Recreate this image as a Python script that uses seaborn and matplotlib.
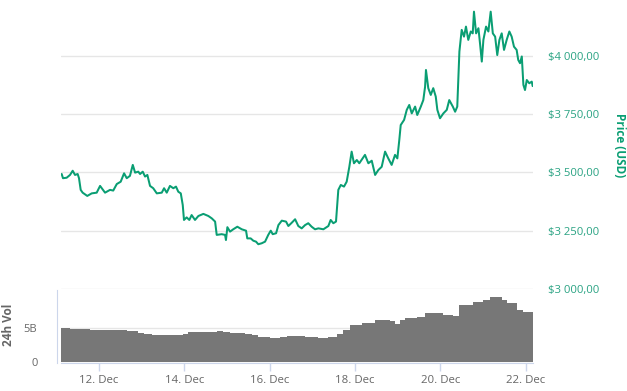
import numpy as np
import pandas as pd
import matplotlib
matplotlib.use("Agg")
import matplotlib.pyplot as plt
import matplotlib.dates as mdates
import seaborn as sns

# hours since 11 Dec 00:00 and price in USD
price_hours = [3.0, 3.75, 5.8, 7.7, 9.2, 10.5, 12.0, 12.75, 13.7, 14.8, 17.4, 19.9, 22.7,
               24.6, 27.4, 30.2, 32.0, 34.0, 36.2, 38.1, 39.6, 41.4, 43.0, 44.3, 46.1, 47.1,
               48.6, 49.9, 51.2, 52.7, 54.5, 56.5, 59.3, 60.6, 62.1, 63.9, 65.8, 67.3, 68.6,
               70.0, 71.1, 71.8, 73.3, 74.8, 76.1, 78.0, 79.9, 82.7, 85.5, 87.4, 89.3, 90.2,
               93.0, 94.9, 95.4, 96.2, 97.7, 99.5, 101.8, 104.3, 106.7, 107.4, 109.3, 110.8,
               112.3, 113.6, 115.5, 117.4, 119.2, 120.6, 121.7, 123.6, 124.9, 126.8, 129.2,
               130.5, 132.4, 134.3, 136.1, 138.0, 139.9, 141.7, 143.6, 145.5, 147.4, 150.2,
               153.0, 154.3, 155.8, 157.3, 158.6, 160.0, 161.8, 163.3, 164.8, 166.1, 167.4,
               169.0, 170.4, 172.3, 173.6, 175.5, 177.4, 179.3, 181.1, 183.0, 184.9, 186.7,
               188.6, 190.5, 191.8, 192.9, 193.7, 195.6, 197.1, 198.5, 199.9, 201.8, 203.0,
               205.0, 206.4, 207.4, 207.9, 209.2, 210.6, 212.0, 213.4, 214.3, 215.8, 217.7,
               219.6, 221.0, 223.0, 224.3, 225.5, 226.7, 228.0, 229.3, 230.4, 231.7, 233.1,
               234.2, 234.9, 236.1, 237.4, 238.3, 239.3, 240.2, 241.7, 243.0, 244.3, 245.5,
               246.8, 248.0, 249.2, 250.5, 251.8, 253.3, 254.8, 256.1, 257.4, 258.9, 259.8,
               260.8, 261.8, 262.7, 263.6, 264.6, 266.0, 267.4, 267.9]
price_usd = [3493, 3475, 3477, 3489, 3507, 3489, 3493, 3475, 3425, 3413, 3399, 3410, 3413,
             3442, 3413, 3425, 3422, 3450, 3460, 3496, 3475, 3485, 3532, 3499, 3503, 3493,
             3503, 3482, 3489, 3442, 3432, 3410, 3413, 3432, 3413, 3442, 3432, 3439, 3417,
             3410, 3360, 3296, 3307, 3296, 3317, 3296, 3313, 3322, 3313, 3303, 3289, 3232,
             3235, 3232, 3210, 3265, 3246, 3256, 3267, 3256, 3250, 3217, 3217, 3207,
             3203, 3192, 3196, 3203, 3232, 3250, 3235, 3239, 3274, 3293, 3289,
             3270, 3284, 3299, 3270, 3260, 3274, 3282, 3267, 3256, 3260, 3256,
             3270, 3296, 3282, 3289, 3425, 3446, 3439, 3460, 3524, 3589, 3539,
             3553, 3539, 3560, 3575, 3539, 3550, 3489, 3510, 3524, 3589, 3560,
             3532, 3575, 3560, 3639, 3703, 3725, 3768, 3789, 3753, 3782, 3746,
             3782, 3810, 3867, 3939, 3861, 3832, 3861, 3825, 3768, 3732, 3753,
             3768, 3810, 3782, 3760, 3782, 4018, 4111, 4082, 4125, 4068, 4104,
             4096, 4189, 4096, 4118, 4053, 3975, 4068, 4125, 4104, 4189, 4096,
             4082, 4003, 4068, 4096, 4025, 4068, 4104, 4082, 4039, 4025, 3982,
             3968, 3997, 3875, 3853, 3896, 3882, 3889, 3870]

# 24h volume in billions USD, step changes
vol_hours = [2.6, 7.7, 18.9, 27.4, 39.6, 42.4, 45.8, 49.5, 53.6, 71.4, 74.2, 90.2, 93.9,
             97.7, 106.1, 109.9, 113.6, 120.2, 125.8, 129.6, 139.9, 147.4, 153.0, 157.7,
             161.4, 165.2, 171.8, 179.3, 187.7, 190.5, 193.3, 196.1, 202.7, 207.4, 217.7,
             223.3, 226.7, 229.0, 234.6, 240.2, 244.0, 250.5, 253.3, 258.9, 262.7, 268.1]
vol_bn = [4.94, 4.80, 4.66, 4.70, 4.51, 4.47, 4.28, 4.04, 3.90, 4.10, 4.33, 4.47, 4.33,
          4.19, 4.10, 4.00, 3.67, 3.52, 3.61, 3.76, 3.71, 3.52, 3.67, 4.14,
          4.61, 5.33, 5.66, 6.04, 5.90, 5.52, 6.04, 6.43, 6.57, 7.04, 6.76,
          6.66, 8.19, 8.28, 8.66, 9.00, 9.38, 9.00, 8.50, 7.47, 7.23, 7.23]

date_ticks = ["2021-12-12", "2021-12-14", "2021-12-16", "2021-12-18", "2021-12-20", "2021-12-22"]
price_ticks = [3000, 3250, 3500, 3750, 4000]

start = pd.Timestamp("2021-12-11")
price_df = pd.DataFrame({"time": start + pd.to_timedelta(price_hours, unit="h"), "price": price_usd})
vol_df = pd.DataFrame({"time": start + pd.to_timedelta(vol_hours, unit="h"), "volume": vol_bn})

sns.set_style("white")
plt.rcParams["font.family"] = ["Open Sans", "DejaVu Sans"]

green = "#0a9e73"
label_green = "#2aa383"
grid_col = "#e6e6e6"
axis_col = "#ccd6eb"

W, H = 627, 391
fig = plt.figure(figsize=(W / 100, H / 100), dpi=100)
ax = fig.add_axes([61 / W, (H - 289) / H, 472 / W, 289 / H])
axv = fig.add_axes([61 / W, (H - 362.5) / H, 472 / W, 72.5 / H], sharex=ax)

sns.lineplot(data=price_df, x="time", y="price", ax=ax, color=green, linewidth=1.45)
ax.set_ylim(3000, 4239)
ax.set_yticks(price_ticks)
ax.set_yticklabels(["$" + f"{v:,.2f}".replace(",", " ").replace(".", ",") for v in price_ticks])
ax.yaxis.tick_right()
ax.tick_params(axis="y", length=0, pad=11, labelsize=8.1, labelcolor=label_green)
ax.tick_params(axis="x", bottom=False, labelbottom=False)
ax.set_ylabel("")
ax.set_xlabel("")
fig.text(620 / W, (H - 145) / H, "Price (USD)", rotation=270, ha="center", va="center",
         color=green, fontsize=8.5, fontweight="bold")
ax.grid(axis="y", color=grid_col, linewidth=1)
ax.set_axisbelow(True)
for s in ax.spines.values():
    s.set_visible(False)

sns.lineplot(data=vol_df, x="time", y="volume", ax=axv, color="#777777", linewidth=0,
             drawstyle="steps-post")
axv.fill_between(vol_df["time"], vol_df["volume"], step="post", color="#777777", linewidth=0)
axv.set_ylim(0, 10.36)
axv.set_yticks([0, 5])
axv.set_yticklabels(["0", "5B"])
axv.tick_params(axis="y", length=0, pad=14, labelsize=8, labelcolor="#666666")
axv.set_ylabel("")
axv.set_xlabel("")
fig.text(9 / W, (H - 325) / H, "24h Vol", rotation=90, ha="center", va="center",
         color="#666666", fontsize=8.5, fontweight="bold")
axv.grid(axis="y", color=grid_col, linewidth=1)
axv.set_axisbelow(True)
for s in ["top", "right"]:
    axv.spines[s].set_visible(False)
axv.spines["left"].set_color(axis_col)
axv.spines["left"].set_position(("outward", 3))
axv.spines["bottom"].set_color(axis_col)

axv.set_xticks(pd.to_datetime(date_ticks))
axv.xaxis.set_major_formatter(mdates.DateFormatter("%d. %b"))
axv.tick_params(axis="x", bottom=True, length=6, width=1, color=axis_col, labelsize=8.2,
                labelcolor="#666666", pad=3)
axv.set_xlim(start + pd.Timedelta(hours=2.625), start + pd.Timedelta(hours=268.1))

fig.savefig("out.png", dpi=100)
